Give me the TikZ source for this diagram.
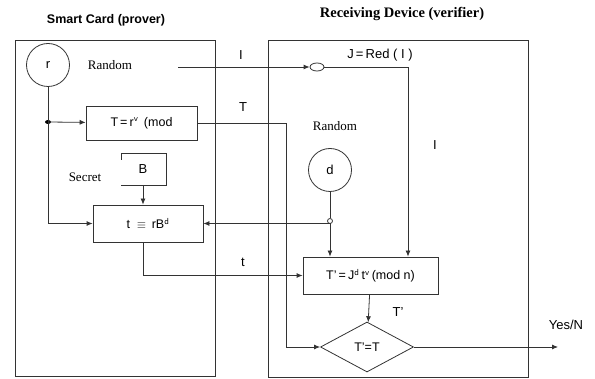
\documentclass[tikz,border=0pt]{standalone}
\usepackage{fontspec}
\setmainfont{Liberation Sans}
\newfontfamily\serif{Liberation Serif}
\usetikzlibrary{arrows.meta,shapes.geometric}

\begin{document}
\begin{tikzpicture}[x=1pt,y=-1pt,
  line width=0.8pt,draw=black!80,
  >={Latex[length=6pt,width=5pt]},
  box/.style={draw,rectangle,inner sep=0pt,font=\fontsize{12.5}{14}\selectfont},
  rnd/.style={draw,circle,inner sep=0pt,minimum size=43pt,font=\fontsize{13}{15}\selectfont},
  lbl/.style={inner sep=1pt,font=\fontsize{13}{15}\selectfont},
  note/.style={inner sep=1pt,font=\serif\fontsize{13}{15}\selectfont}]

\useasboundingbox (0,0) rectangle (595,379);

\node[font=\bfseries\fontsize{12.5}{14}\selectfont] (cardtitle) at (106,20) {Smart Card (prover)};
\node[font=\serif\bfseries\fontsize{14.5}{16}\selectfont] (devtitle) at (402,14) {Receiving Device (verifier)};

\draw (15,40) rectangle (215,376);
\draw (268,40) rectangle (528,377);

\node[rnd] (r) at (48,65) {r};
\node[note] (rand1) at (110,65) {Random};
\node[box,minimum width=111pt,minimum height=34pt] (Tbox) at (141.5,123) {T\,=\,r$^{\scriptstyle\mathsf{v}}$\ \,(mod};
\node[lbl] (B) at (143,169) {B};
\draw (121,160) -- (121,153) -- (166,153) -- (166,185) -- (121,185);
\coordinate (Bbot) at (143,185);
\node[note] (secret) at (85,177) {Secret};
\node[box,minimum width=110pt,minimum height=37pt] (tbox) at (148,223.5) {t\ \ $\equiv$\ \,rB$^{\scriptstyle\mathsf{d}}$};

\node[draw,ellipse,inner sep=0pt,minimum width=14pt,minimum height=8pt] (J) at (317,67) {};
\node[lbl] (jlabel) at (380,55) {J\,=\,Red\;(\;I\;)};
\node[note] (rand2) at (335,126) {Random};
\node[rnd] (d) at (330,170) {d};
\node[draw,circle,inner sep=0pt,minimum size=5pt] (junc) at (330,221) {};
\node[box,minimum width=135pt,minimum height=37pt] (Tpbox) at (370.5,275.5) {T'\,=\,J$^{\scriptstyle\mathsf{d}}$\,t$^{\scriptstyle\mathsf{v}}$\,(mod n)};
\node[draw,diamond,inner sep=0pt,minimum width=93pt,minimum height=50pt,font=\fontsize{12.5}{14}\selectfont] (cmp) at (367,347) {T'=T};

\node[lbl] (ilbl1) at (241,55) {I};
\node[lbl] (tlbl1) at (243,107) {T};
\node[lbl] (ilbl2) at (435,145) {I};
\node[lbl] (tlbl2) at (243,262) {t};
\node[lbl] (tplbl) at (398,312) {T'};
\node[lbl] (yes) at (566,325) {Yes/N};

\coordinate (split) at (48,122);
\coordinate (istart) at (178,67);
\coordinate (jturn) at (408,67);
\coordinate (tturn) at (286,123);
\coordinate (yesend) at (558,347);

\fill (split) ellipse (3pt and 2pt);
\draw[->] (r) -- (r |- tbox) -- (tbox);
\draw[->] (split) -- (Tbox);
\draw[->] (istart) -- (J);
\draw[->] (J) -- (jturn) -- (jturn |- Tpbox.north);
\draw[->] (Tbox) -- (tturn) |- (cmp);
\draw[->] (Bbot) -- (Bbot |- tbox.north);
\draw (d) -- (junc);
\draw[->] (junc) -- (junc |- tbox.east) -- (tbox);
\draw[->] (junc) -- (junc |- Tpbox.north);
\draw[->] (Bbot |- tbox.south) |- (Tpbox);
\draw[->] (Tpbox) -- (cmp);
\draw[->] (cmp) -- (yesend);

\end{tikzpicture}
\end{document}
